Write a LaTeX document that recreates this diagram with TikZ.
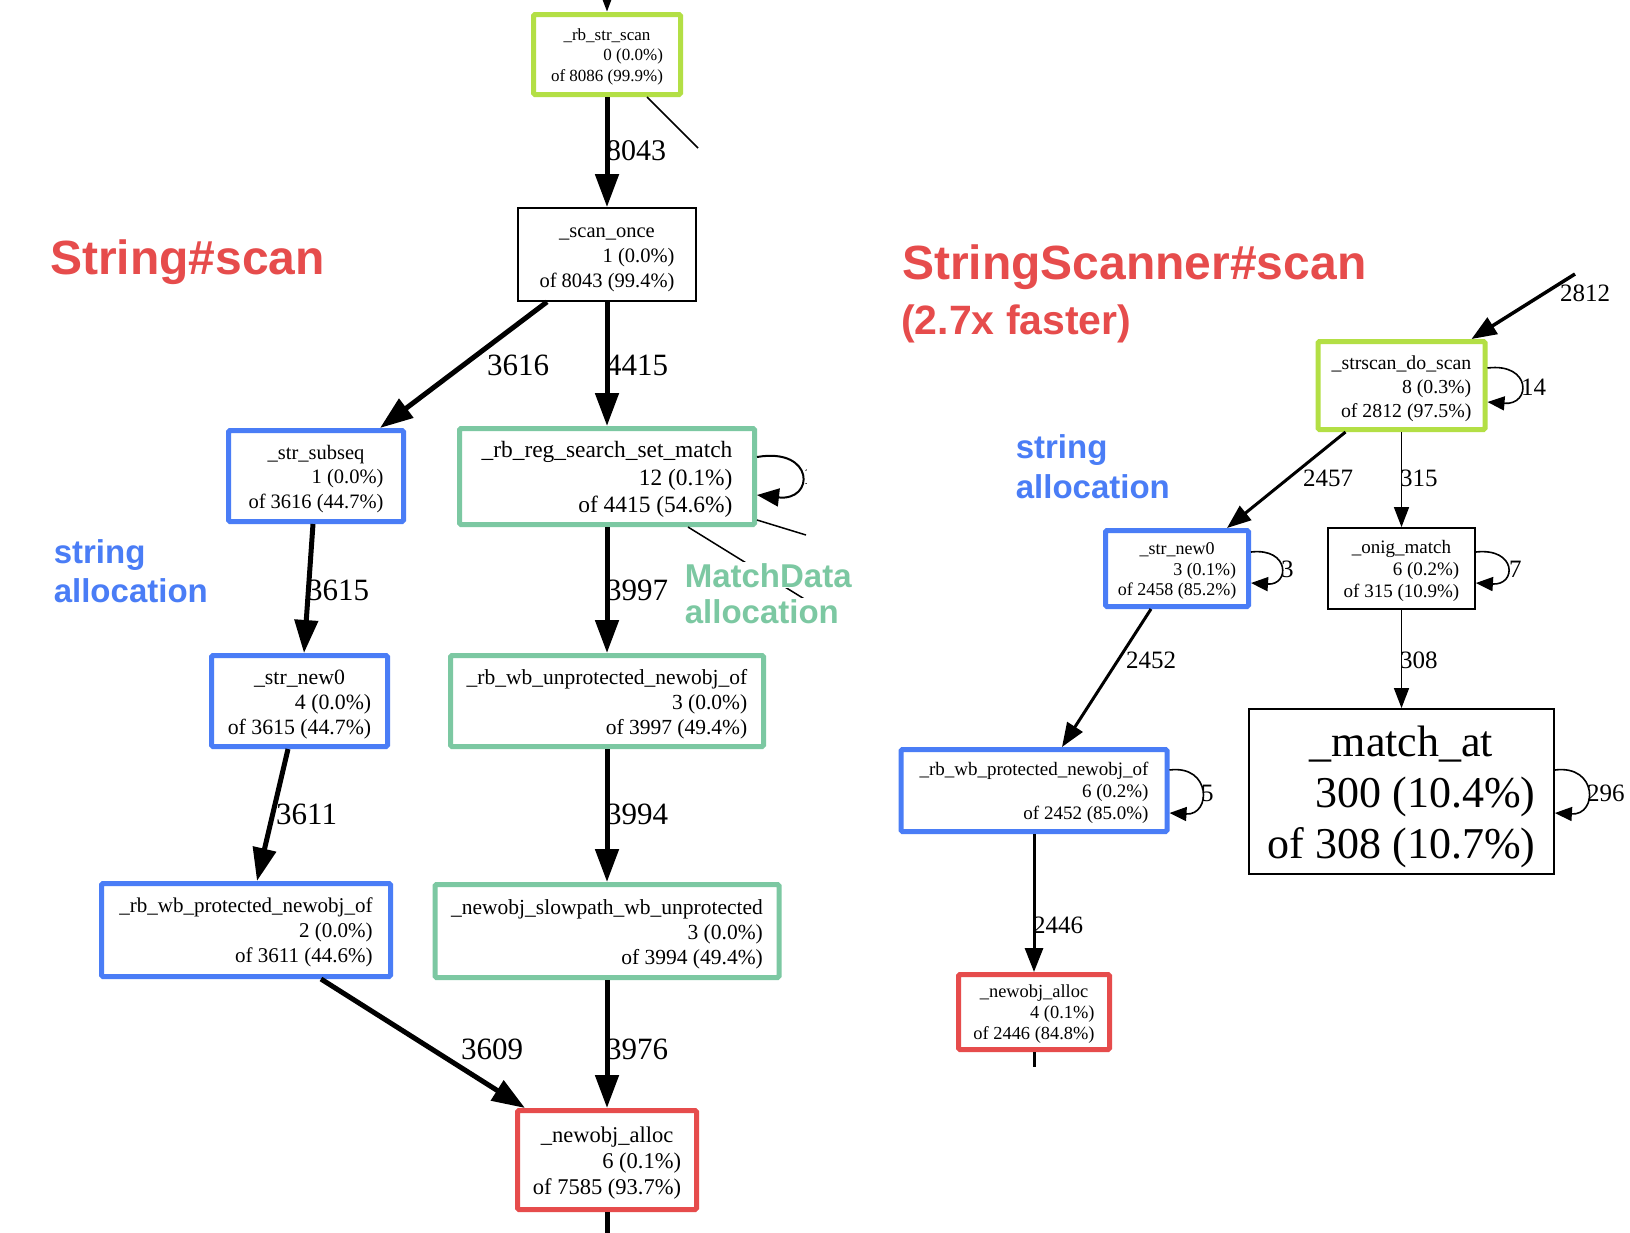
\documentclass[tikz,border=0pt]{standalone}
\usepackage{fontspec}
\setmainfont{Liberation Serif}
\newfontfamily\hsans{Liberation Sans}
\usetikzlibrary{arrows.meta}
\definecolor{cgreen}{HTML}{B3DF45}
\definecolor{cblue}{HTML}{4A7DF6}
\definecolor{cteal}{HTML}{7CC8A2}
\definecolor{cred}{HTML}{E64C4C}
\newcommand{\lbl}[5]{\fontsize{#1}{#2}\selectfont\raisebox{-0.14em}[\height][\depth]{\begin{tabular}{@{}r@{}}\multicolumn{1}{@{}c@{}}{#3}\\#4\\#5\end{tabular}}}
\tikzset{
  fnbox/.style={rectangle, inner sep=0pt, fill=white},
  cbox/.style={fnbox, line width=5pt, rounded corners=1.5pt},
  kbox/.style={fnbox, draw=black, line width=1.8pt},
  bigarrow/.style={line width=5pt, -{Triangle[length=33pt,width=23pt]}},
  midarrow/.style={line width=3pt, -{Triangle[length=24pt,width=18pt]}},
  thinarrow/.style={line width=1.5pt, -{Triangle[length=20pt,width=15pt]}},
  loopbig/.style={line width=2pt, -{Triangle[length=22pt,width=18pt]}},
  loopsmall/.style={line width=1.6pt, -{Triangle[length=17pt,width=14pt]}},
  plainline/.style={line width=1.5pt},
  elbl/.style={inner sep=0pt, anchor=west, font=\fontsize{31}{31}\selectfont},
  elblr/.style={inner sep=0pt, anchor=west, font=\fontsize{25}{25}\selectfont},
  ttl/.style={inner sep=0pt, anchor=base west, text=cred, font=\hsans\bfseries\fontsize{48}{48}\selectfont},
  ttlsmall/.style={inner sep=0pt, anchor=base west, text=cred, font=\hsans\bfseries\fontsize{41}{41}\selectfont},
  ann/.style={inner sep=0.6pt, anchor=base west, font=\hsans\bfseries\fontsize{33}{33}\selectfont},
}
\begin{document}
\begin{tikzpicture}[x=1pt,y=-1pt]
\useasboundingbox (0,0) rectangle (1630,1232);
\fill[white] (0,0) rectangle (1630,1232);
\clip (0,0) rectangle (1630,1232);

% ---------------- left graph: String#scan ----------------
\node[cbox, draw=cgreen, minimum width=147pt, minimum height=80pt] (rbstrscan) at (607,54.5)
  {\lbl{17}{20.5}{\_rb\_str\_scan}{0 (0.0\%)}{of 8086 (99.9\%)}};
\node[kbox, minimum width=178pt, minimum height=93pt] (scanonce) at (607,254.5)
  {\lbl{20.5}{24.8}{\_scan\_once}{1 (0.0\%)}{of 8043 (99.4\%)}};
\node[cbox, draw=cblue, minimum width=175pt, minimum height=91pt] (strsubseq) at (316,476)
  {\lbl{20.5}{24.5}{\_str\_subseq}{1 (0.0\%)}{of 3616 (44.7\%)}};
\node[cbox, draw=cteal, minimum width=295pt, minimum height=96pt] (rbreg) at (607,476.5)
  {\lbl{23.4}{27.5}{\_rb\_reg\_search\_set\_match}{12 (0.1\%)}{of 4415 (54.6\%)}};
\node[cbox, draw=cblue, minimum width=176pt, minimum height=91pt] (strnewL) at (299.5,701)
  {\lbl{21.8}{25}{\_str\_new0}{4 (0.0\%)}{of 3615 (44.7\%)}};
\node[cbox, draw=cteal, minimum width=313pt, minimum height=91pt] (rbwbunprot) at (607,701)
  {\lbl{21.5}{25}{\_rb\_wb\_unprotected\_newobj\_of}{3 (0.0\%)}{of 3997 (49.4\%)}};
\node[cbox, draw=cblue, minimum width=289pt, minimum height=93pt] (rbwbprotL) at (246,930)
  {\lbl{21}{25}{\_rb\_wb\_protected\_newobj\_of}{2 (0.0\%)}{of 3611 (44.6\%)}};
\node[cbox, draw=cteal, minimum width=344pt, minimum height=93pt] (slowpath) at (607,931)
  {\lbl{21.5}{25}{\_newobj\_slowpath\_wb\_unprotected}{3 (0.0\%)}{of 3994 (49.4\%)}};
\node[cbox, draw=cred, minimum width=179pt, minimum height=99pt] (allocL) at (607,1160)
  {\lbl{22.5}{26}{\_newobj\_alloc}{6 (0.1\%)}{of 7585 (93.7\%)}};

\coordinate (topin) at (607,-40);
\coordinate (diagend) at (698,148);
\coordinate (outA) at (806,535);
\coordinate (outB) at (806,600);
\coordinate (botL) at (607,1245);

\draw[bigarrow] (topin) -- (rbstrscan.north);
\draw[bigarrow] (rbstrscan.south) -- (scanonce.north);
\draw[plainline] ([xshift=40pt]rbstrscan.south) -- (diagend);
\draw[bigarrow] ([xshift=-60pt]scanonce.south) -- ([xshift=64pt]strsubseq.north);
\draw[bigarrow] (scanonce.south) -- (rbreg.north);
\draw[bigarrow] ([xshift=-3pt]strsubseq.south) -- ([xshift=4.5pt]strnewL.north);
\draw[bigarrow] (rbreg.south) -- (rbwbunprot.north);
\draw[bigarrow] ([xshift=-11.5pt]strnewL.south) -- ([xshift=11pt]rbwbprotL.north);
\draw[bigarrow] (rbwbunprot.south) -- (slowpath.north);
\draw[bigarrow] ([xshift=75pt]rbwbprotL.south) -- ([xshift=-82pt]allocL.north);
\draw[bigarrow] (slowpath.south) -- (allocL.north);
\draw[line width=5pt] (allocL.south) -- (botL);
\draw[loopbig] ([yshift=19.5pt]rbreg.east) .. controls ([xshift=58pt,yshift=29.5pt]rbreg.east) and ([xshift=58pt,yshift=-25pt]rbreg.east) .. ([yshift=-18.5pt]rbreg.east);
\draw[plainline] ([yshift=-43.5pt]rbreg.east) -- (outA);
\draw[plainline] ([xshift=81pt]rbreg.south) -- (outB);
\begin{scope}
  \clip (790,440) rectangle (806,510);
  \node[elblr] (lbl12) at (803,476) {1};
\end{scope}

\node[elbl, font=\fontsize{30}{30}\selectfont] (l8043) at (606,151) {8043};
\node[elbl] (l3616) at (487,365) {3616};
\node[elbl] (l4415) at (606,365) {4415};
\node[elbl] (l3615) at (307,590) {3615};
\node[elbl] (l3997) at (606,590) {3997};
\node[elbl] (l3611) at (276,814) {3611};
\node[elbl] (l3994) at (606,814) {3994};
\node[elbl] (l3609) at (461,1049) {3609};
\node[elbl] (l3976) at (606,1049) {3976};

% ---------------- right graph: StringScanner#scan ----------------
\node[cbox, draw=cgreen, minimum width=167pt, minimum height=88pt] (doscan) at (1401.5,385.5)
  {\lbl{19.8}{24}{\_strscan\_do\_scan}{8 (0.3\%)}{of 2812 (97.5\%)}};
\node[cbox, draw=cblue, minimum width=143pt, minimum height=76pt] (strnewR) at (1177,568.5)
  {\lbl{18}{20.8}{\_str\_new0}{3 (0.1\%)}{of 2458 (85.2\%)}};
\node[kbox, minimum width=147pt, minimum height=81pt] (onig) at (1401.5,568.5)
  {\lbl{19}{21.8}{\_onig\_match}{6 (0.2\%)}{of 315 (10.9\%)}};
\node[cbox, draw=cblue, minimum width=266pt, minimum height=82pt] (rbwbprotR) at (1034,790.5)
  {\lbl{19}{22}{\_rb\_wb\_protected\_newobj\_of}{6 (0.2\%)}{of 2452 (85.0\%)}};
\node[kbox, minimum width=305pt, minimum height=165pt] (matchat) at (1401.5,791.5)
  {\lbl{44}{51}{\_match\_at}{300 (10.4\%)}{of 308 (10.7\%)}};
\node[cbox, draw=cred, minimum width=151pt, minimum height=75pt] (allocR) at (1034,1012)
  {\lbl{18.4}{21}{\_newobj\_alloc}{4 (0.1\%)}{of 2446 (84.8\%)}};

\coordinate (inR) at (1575,274);
\coordinate (botR) at (1034,1067);

\draw[line width=3.5pt, -{Triangle[length=25pt,width=19pt]}] (inR) -- ([xshift=70pt]doscan.north);
\draw[loopsmall] ([yshift=17.5pt]doscan.east) .. controls ([xshift=44pt,yshift=23pt]doscan.east) and ([xshift=44pt,yshift=-20pt]doscan.east) .. ([yshift=-16.5pt]doscan.east);
\draw[midarrow] ([xshift=-56pt]doscan.south) -- ([xshift=50pt]strnewR.north);
\draw[thinarrow] (doscan.south) -- (onig.north);
\draw[loopsmall] ([yshift=16.5pt]strnewR.east) .. controls ([xshift=39pt,yshift=21pt]strnewR.east) and ([xshift=39pt,yshift=-17pt]strnewR.east) .. ([yshift=-14.5pt]strnewR.east);
\draw[loopsmall] ([yshift=16.5pt]onig.east) .. controls ([xshift=41pt,yshift=21pt]onig.east) and ([xshift=41pt,yshift=-17pt]onig.east) .. ([yshift=-14.5pt]onig.east);
\draw[midarrow] ([xshift=-26pt]strnewR.south) -- ([xshift=28pt]rbwbprotR.north);
\draw[thinarrow] (onig.south) -- (matchat.north);
\draw[loopsmall] ([yshift=20.5pt]rbwbprotR.east) .. controls ([xshift=42pt,yshift=26pt]rbwbprotR.east) and ([xshift=42pt,yshift=-25pt]rbwbprotR.east) .. ([yshift=-22.5pt]rbwbprotR.east);
\draw[loopsmall] ([yshift=21.5pt]matchat.east) .. controls ([xshift=43pt,yshift=27pt]matchat.east) and ([xshift=43pt,yshift=-24pt]matchat.east) .. ([yshift=-21.5pt]matchat.east);
\draw[midarrow] (rbwbprotR.south) -- (allocR.north);
\draw[line width=3pt] (allocR.south) -- (botR);

\node[elblr] (l2812) at (1560,293) {2812};
\node[elblr] (l14) at (1521,387) {14};
\node[elblr] (l2457) at (1303,478) {2457};
\node[elblr] (l315) at (1400,478) {315};
\node[elblr] (l3) at (1281,569) {3};
\node[elblr] (l7) at (1509,569) {7};
\node[elblr] (l2452) at (1126,660) {2452};
\node[elblr] (l308) at (1400,660) {308};
\node[elblr] (l5) at (1201,793) {5};
\node[elblr] (l296) at (1587,793) {296};
\node[elblr] (l2446) at (1033,925) {2446};

% ---------------- annotations ----------------
\node[ttl] (tA) at (50,274) {String\#scan};
\node[ann, text=cblue] (aA) at (53,563) {string};
\node[ann, text=cblue] (aB) at (53,602) {allocation};
\node[ann, text=cteal, fill=white] (aC) at (684,587) {MatchData};
\node[ann, text=cteal, fill=white] (aD) at (684,623) {allocation};
\node[ttl] (tB) at (902,279) {StringScanner\#scan};
\node[ttlsmall] (tC) at (901,334) {(2.7x faster)};
\node[ann, text=cblue] (aE) at (1015,458) {string};
\node[ann, text=cblue] (aF) at (1015,498) {allocation};
\end{tikzpicture}
\end{document}
